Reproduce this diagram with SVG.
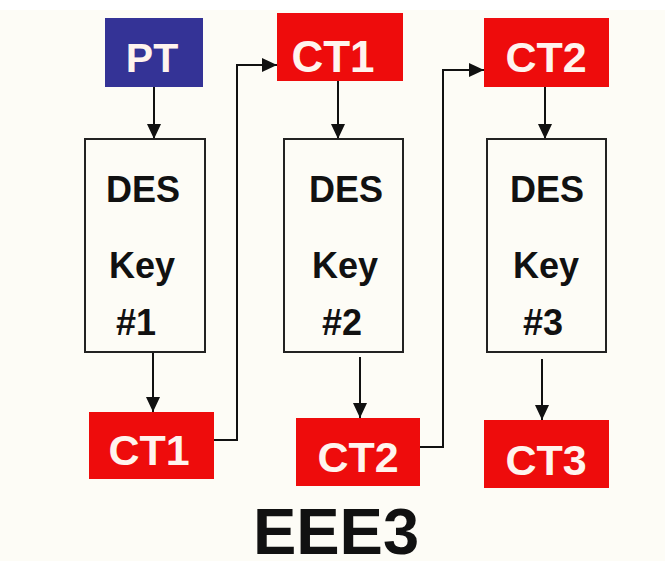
<svg xmlns="http://www.w3.org/2000/svg" width="665" height="561" viewBox="0 0 665 561">
  <style>
    .bg { fill: #fdfcf6; }
    .red { fill: #ee0c0c; }
    .blue { fill: #343396; }
    .des { fill: #fdfcf6; stroke: #222; stroke-width: 2; }
    .lbl { font-family: "Liberation Sans", Arial, sans-serif; font-weight: bold; fill: #fff4ee; text-anchor: middle; }
    .txt { font-family: "Liberation Sans", Arial, sans-serif; font-weight: bold; fill: #111; text-anchor: middle; font-size: 36px; }
    .wire { fill: none; stroke: #111; stroke-width: 2; marker-end: url(#arrow); }
  </style>
  <defs>
    <marker id="arrow" markerUnits="userSpaceOnUse" markerWidth="15" markerHeight="14" refX="15" refY="7" orient="auto">
      <path d="M0,0 L15,7 L0,14 Z" fill="#111"/>
    </marker>
  </defs>

  <rect x="0" y="0" width="665" height="561" fill="#ffffff"/>
  <rect class="bg" x="0" y="10" width="665" height="551"/>

  <!-- connectors -->
  <g id="connectors">
    <line class="wire" x1="154" y1="87" x2="154" y2="139"/>
    <line class="wire" x1="338" y1="81" x2="338" y2="139"/>
    <line class="wire" x1="545" y1="87" x2="545" y2="139"/>
    <line class="wire" x1="153" y1="352" x2="153" y2="412"/>
    <line class="wire" x1="360" y1="357" x2="360" y2="418"/>
    <line class="wire" x1="542" y1="359" x2="542" y2="420"/>
    <path class="wire" d="M187,440 H237 V65 H277"/>
    <path class="wire" d="M420,447 H443 V70 H484"/>
  </g>

  <!-- plaintext input -->
  <g id="pt">
    <rect class="blue" x="105" y="18" width="98" height="69"/>
    <text class="lbl" x="152" y="72" font-size="41">PT</text>
  </g>

  <!-- DES stages -->
  <g id="des1">
    <rect class="des" x="85" y="139" width="120" height="213"/>
    <text class="txt" x="143" y="202">DES</text>
    <text class="txt" x="142" y="278">Key</text>
    <text class="txt" x="136" y="335">#1</text>
  </g>
  <g id="des2">
    <rect class="des" x="284" y="139" width="119" height="213"/>
    <text class="txt" x="346" y="202">DES</text>
    <text class="txt" x="345" y="278">Key</text>
    <text class="txt" x="342" y="335">#2</text>
  </g>
  <g id="des3">
    <rect class="des" x="487" y="139" width="119" height="213"/>
    <text class="txt" x="547" y="202">DES</text>
    <text class="txt" x="546" y="278">Key</text>
    <text class="txt" x="543" y="335">#3</text>
  </g>

  <!-- ciphertext outputs -->
  <g id="ct1-out">
    <rect class="red" x="89" y="412" width="125" height="67"/>
    <text class="lbl" x="149" y="465" font-size="43">CT1</text>
  </g>
  <g id="ct2-out">
    <rect class="red" x="296" y="418" width="124" height="68"/>
    <text class="lbl" x="358" y="472" font-size="43">CT2</text>
  </g>
  <g id="ct3-out">
    <rect class="red" x="484" y="420" width="125" height="68"/>
    <text class="lbl" x="546" y="475" font-size="43">CT3</text>
  </g>

  <!-- ciphertext fed forward -->
  <g id="ct1-in">
    <rect class="red" x="277" y="13" width="126" height="68"/>
    <text class="lbl" x="333" y="72" font-size="44">CT1</text>
  </g>
  <g id="ct2-in">
    <rect class="red" x="484" y="18" width="125" height="69"/>
    <text class="lbl" x="546" y="72" font-size="43">CT2</text>
  </g>

  <!-- caption -->
  <g id="caption">
    <text x="336" y="554" font-family="'Liberation Sans', Arial, sans-serif" font-weight="bold" font-size="65" fill="#111" text-anchor="middle">EEE3</text>
  </g>
</svg>
